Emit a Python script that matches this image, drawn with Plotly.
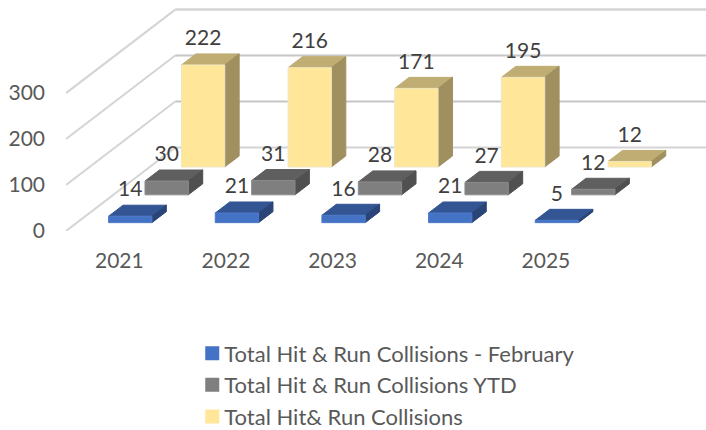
import plotly.graph_objects as go

years = ["2021", "2022", "2023", "2024", "2025"]
feb_values = [14, 21, 16, 21, 5]
ytd_values = [30, 31, 28, 27, 12]
total_values = [222, 216, 171, 195, 12]
y_ticks = [0, 100, 200, 300]
series_names = ["Total Hit & Run Collisions - February", "Total Hit & Run Collisions YTD", "Total Hit& Run Collisions"]

W, H = 706, 430
PX_X = 106.7      # pixels per category
PX_Y = 0.459      # pixels per value unit
LEFT, BASE = 65.7, 230.7
WALL_X = 109.3 / PX_X   # shear of full floor depth, category units
WALL_Y = 83.4 / PX_Y    # shear of full floor depth, value units
BAR_W = 0.406
BAR_D = 0.132
LABEL_GAP = 25 / PX_Y
FONT = "Lato"
TXT = "#595959"


def proj(cat, val, depth):
    return cat + depth * WALL_X, val + depth * WALL_Y


def poly(points):
    xs, ys = [], []
    for c, v, d in points:
        x, y = proj(c, v, d)
        xs.append(x)
        ys.append(y)
    xs.append(xs[0]); ys.append(ys[0])
    xs.append(None); ys.append(None)
    return xs, ys


def faces(values, d0):
    front, top, side = ([], []), ([], []), ([], [])
    d1 = d0 + BAR_D
    for i, v in enumerate(values):
        a = i + (1 - BAR_W) / 2
        b = a + BAR_W
        for store, pts in (
            (top, [(a, v, d0), (b, v, d0), (b, v, d1), (a, v, d1)]),
            (side, [(b, 0, d0), (b, v, d0), (b, v, d1), (b, 0, d1)]),
            (front, [(a, 0, d0), (b, 0, d0), (b, v, d0), (a, v, d0)]),
        ):
            xs, ys = poly(pts)
            store[0].extend(xs)
            store[1].extend(ys)
    return front, top, side


fig = go.Figure()

n_cat = len(years)
max_tick = y_ticks[-1]
# walls
for t in y_ticks:
    x0, y0 = proj(0, t, 0)
    x1, y1 = proj(0, t, 1)
    x2, y2 = proj(n_cat, t, 1)
    fig.add_trace(go.Scatter(x=[x0, x1], y=[y0, y1], mode="lines", showlegend=False, hoverinfo="skip",
                             line=dict(color="#d4d4d4", width=2)))
    fig.add_trace(go.Scatter(x=[x1, x2], y=[y1, y2], mode="lines", showlegend=False, hoverinfo="skip",
                             line=dict(color="#d4d4d4" if t == max_tick or t == 0 else "#c6c6c6", width=2.5 if t == max_tick else 2)))

styles = [
    (total_values, 0.7667, "#FFE699", "#BFAD73", "#A09060", "#EFE6C0"),
    (ytd_values, 0.4333, "#7F7F7F", "#5F5F5F", "#505050", "#8C8C8C"),
    (feb_values, 0.1, "#4472C4", "#335593", "#2A4478", "#4F7BC9"),
]
for vals, d0, c_front, c_top, c_side, c_edge in styles:
    front, top, side = faces(vals, d0)
    for (xs, ys), col, edge in ((top, c_top, c_top), (side, c_side, c_side), (front, c_front, c_edge)):
        fig.add_trace(go.Scatter(x=xs, y=ys, mode="lines", fill="toself", fillcolor=col, showlegend=False,
                                 hoverinfo="skip", line=dict(color=edge, width=1)))
    lx, ly, lt = [], [], []
    for i, v in enumerate(vals):
        x, y = proj(i + 0.5, v + LABEL_GAP, d0)
        lx.append(x); ly.append(y); lt.append(str(v))
    fig.add_trace(go.Scatter(x=lx, y=ly, mode="text", text=lt, textposition="middle center", showlegend=False,
                             hoverinfo="skip", textfont=dict(family=FONT, size=21, color="#404040")))

for name, col in zip(series_names, ["#4472C4", "#7F7F7F", "#FFE699"]):
    fig.add_trace(go.Scatter(x=[None], y=[None], mode="markers", name=name,
                             marker=dict(symbol="square", size=14, color=col)))

fig.update_layout(
    width=W, height=H, autosize=False,
    margin=dict(l=LEFT, r=0, t=0, b=H - BASE, pad=0, autoexpand=False),
    paper_bgcolor="white", plot_bgcolor="white",
    font=dict(family=FONT, size=21, color=TXT),
    xaxis=dict(range=[0, (W - LEFT) / PX_X], tickmode="array", tickvals=[i + 0.5 for i in range(n_cat)], ticktext=years,
               showgrid=False, zeroline=False, showline=False, ticks="", ticklabelstandoff=15, fixedrange=True, automargin=False),
    yaxis=dict(range=[0, BASE / PX_Y], tickmode="array", tickvals=y_ticks,
               showgrid=False, zeroline=False, showline=False, ticks="", ticklabelstandoff=20, fixedrange=True, automargin=False),
    legend=dict(x=(184 - LEFT) / (W - LEFT), y=(BASE - 332) / BASE, xanchor="left", yanchor="top", bgcolor="rgba(0,0,0,0)",
                font=dict(family=FONT, size=22, color=TXT), itemclick=False, itemdoubleclick=False),
    showlegend=True,
)
fig.write_html("out.html", config={"displayModeBar": False},
               post_script="document.body.style.margin='0';document.body.style.overflow='hidden';"
                           "document.querySelectorAll('.legendsymbols').forEach(function(g){g.setAttribute('transform','translate(8,0)');});")
